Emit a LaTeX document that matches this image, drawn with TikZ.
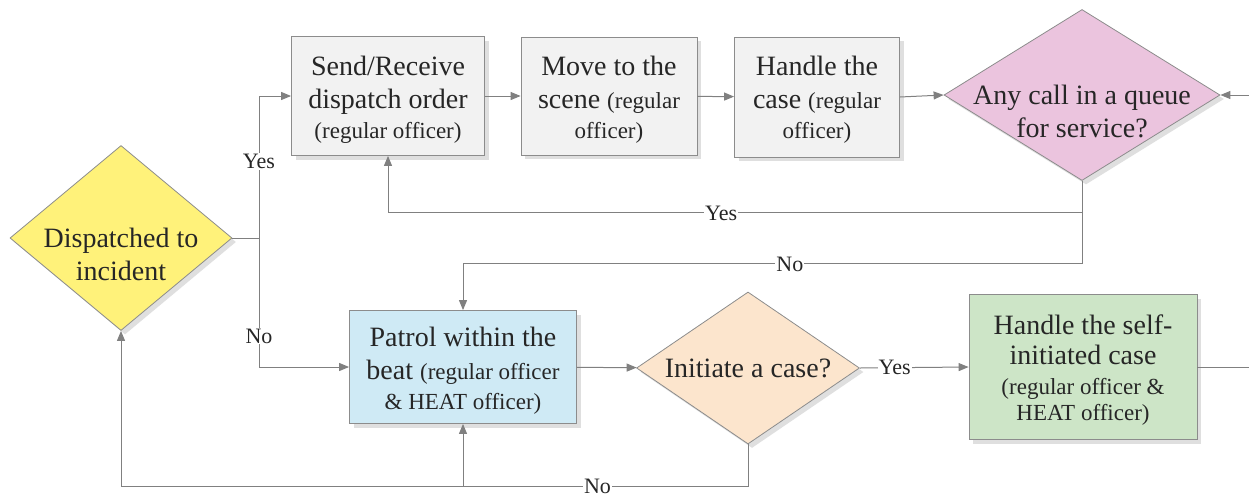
\documentclass[tikz,border=0pt]{standalone}
\usepackage{fontspec}
\setmainfont{Liberation Serif}
\newfontfamily\timesfont{Liberation Serif}
\usetikzlibrary{shapes,arrows.meta,positioning,calc,shadows}

\definecolor{dispfill}{RGB}{255,242,122}
\definecolor{queuefill}{RGB}{235,196,222}
\definecolor{stepfill}{RGB}{242,242,242}
\definecolor{patrolfill}{RGB}{207,234,245}
\definecolor{initfill}{RGB}{252,229,205}
\definecolor{selffill}{RGB}{205,229,199}
\newcommand{\bigtxt}{\timesfont\fontsize{28}{33}\selectfont}
\newcommand{\smltxt}{\timesfont\fontsize{23}{31}\selectfont}
\newcommand{\lift}[1]{\rule{0pt}{#1}}

\begin{document}
\begin{tikzpicture}[x=1pt,y=-1pt,
	 shade/.style={drop shadow={shadow xshift=4pt,shadow yshift=-4pt,fill=black!25,opacity=0.5}},
	 box/.style={rectangle,draw=black!45,line width=0.8pt,inner sep=0pt,align=center,
				 text=black!85,font=\bigtxt,shade},
	 decision/.style={diamond,draw=black!45,line width=0.8pt,inner sep=0pt,shade},
	 txt/.style={align=center,text=black!85,font=\bigtxt,inner sep=0pt},
	 tag/.style={fill=white,inner sep=1pt,text=black!85,font=\timesfont\fontsize{22}{24}\selectfont},
	 line/.style={draw=black!50,line width=1pt},
	 arr/.style={line,-{Triangle[length=10pt,width=8pt]}}]
\useasboundingbox (0,0) rectangle (1249,493);

% decisions
\node [decision,fill=dispfill,minimum width=222pt,minimum height=185pt] (disp) at (121,238) {};
\node [txt] (disp-txt) at (121,254) {Dispatched to\\incident};
\node [decision,fill=queuefill,minimum width=276pt,minimum height=171pt] (queue) at (1082,95) {};
\node [txt] (queue-txt) at (1082,111) {Any call in a queue\\for service?};
\node [decision,fill=initfill,minimum width=223pt,minimum height=152pt] (init) at (748,368) {};
\node [txt] (init-txt) at (748,368) {Initiate a case?};

% steps
\node [box,fill=stepfill,minimum width=193pt,minimum height=119pt] (send) at (388,96)
	{\lift{26pt}Send/Receive\\dispatch order\\[-3pt]{\smltxt(regular officer)}};
\node [box,fill=stepfill,minimum width=176pt,minimum height=118pt] (move) at (609,96)
	{\lift{26pt}Move to the\\scene {\smltxt(regular}\\[-3pt]{\smltxt officer)}};
\node [box,fill=stepfill,minimum width=165pt,minimum height=120pt] (handle) at (817,97)
	{\lift{25pt}Handle the\\case {\smltxt(regular}\\[-3pt]{\smltxt officer)}};
\node [box,fill=patrolfill,minimum width=227pt,minimum height=113pt] (patrol) at (463,367)
	{\lift{27pt}Patrol within the\\beat {\smltxt(regular officer}\\[-3pt]{\smltxt\& HEAT officer)}};
\node [box,fill=selffill,minimum width=228pt,minimum height=145pt,
	   font=\timesfont\fontsize{28}{30}\selectfont] (self) at (1083,367)
	{\lift{26pt}Handle the self-\\initiated case\\{\smltxt(regular officer \&}\\[-4pt]{\smltxt HEAT officer)}};

\coordinate (split) at (259,238);
\coordinate (rin) at (1249,95);
\coordinate (rout) at (1249,367);

% connectors
\draw [line] (disp.east) -- (split);
\draw [arr] (split) |- node[tag,pos=0.27] {Yes} (send.west);
\draw [arr] (split) |- node[tag,pos=0.38] {No} (patrol.west);
\draw [arr] (send) -- (move);
\draw [arr] (move) -- (handle);
\draw [arr] (handle.east) -- (queue.west);
\draw [arr] (rin) -- (queue.east);
\draw [arr] (queue.south) -- ++(0,32) -| node[tag,pos=0.26] {Yes} (send.south);
\draw [arr] (queue.south) -- ++(0,83) -| node[tag,pos=0.236] {No} (patrol.north);
\draw [arr] (patrol) -- (init);
\draw [arr] (init.east) -- node[tag,pos=0.32] {Yes} (self.west);
\draw [line] (self.east) -- (rout);
\draw [arr] (init.south) -- ++(0,42) coordinate (base) -| node[tag,pos=0.12] {No} (disp.south);
\draw [arr] (patrol.south |- base) -- (patrol.south);
\end{tikzpicture}
\end{document}
